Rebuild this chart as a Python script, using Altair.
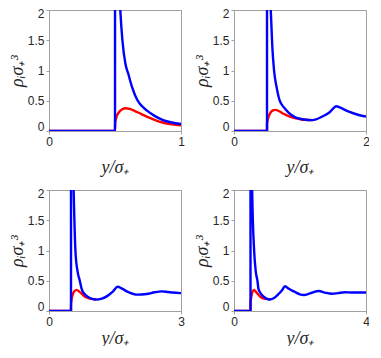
import altair as alt
import pandas as pd

x_max = [1, 2, 3, 4]
y_ticks = [0, 0.5, 1, 1.5, 2]

# Panel 1 (0..1)
blue_x1 = [0, 0.5, 0.501, 0.52, 0.54, 0.556, 0.58, 0.60, 0.63, 0.667, 0.70, 0.74, 0.80, 0.864, 0.93, 1.0]
blue_y1 = [0, 0, 8, 3.0, 2.0, 1.5, 1.1, 0.95, 0.72, 0.52, 0.42, 0.34, 0.25, 0.18, 0.14, 0.115]
red_x1 = [0, 0.5, 0.501, 0.51, 0.53, 0.555, 0.58, 0.61, 0.65, 0.70, 0.75, 0.80, 0.86, 0.93, 1.0]
red_y1 = [0, 0, 0.12, 0.22, 0.31, 0.36, 0.375, 0.365, 0.33, 0.28, 0.23, 0.185, 0.14, 0.11, 0.095]

# Panel 2 (0..2)
blue_x2 = [0, 0.5, 0.501, 0.52, 0.557, 0.58, 0.607, 0.65, 0.69, 0.716, 0.78, 0.84, 0.92, 1.04, 1.19, 1.34, 1.45, 1.55, 1.60, 1.74, 1.89, 2.0]
blue_y2 = [0, 0, 8, 3.5, 2.0, 1.4, 1.0, 0.7, 0.51, 0.45, 0.36, 0.29, 0.23, 0.195, 0.18, 0.24, 0.31, 0.41, 0.39, 0.32, 0.265, 0.24]
red_x2 = [0, 0.5, 0.501, 0.52, 0.55, 0.59, 0.63, 0.68, 0.74, 0.79, 0.87, 0.94, 1.02, 1.09, 1.19]
red_y2 = [0, 0, 0.12, 0.22, 0.30, 0.34, 0.35, 0.33, 0.29, 0.265, 0.23, 0.21, 0.19, 0.185, 0.18]

# Panel 3 (0..3)
blue_x3 = [0, 0.5, 0.501, 0.53, 0.56, 0.60, 0.65, 0.70, 0.74, 0.81, 0.89, 0.98, 1.07, 1.2, 1.33, 1.45, 1.56, 1.66, 1.78, 1.9, 2.0, 2.22, 2.4, 2.56, 2.7, 2.81, 3.0]
blue_y3 = [0, 0, 8, 3.0, 2.0, 1.0, 0.65, 0.5, 0.37, 0.28, 0.23, 0.2, 0.19, 0.205, 0.25, 0.32, 0.40, 0.37, 0.32, 0.285, 0.27, 0.28, 0.31, 0.325, 0.315, 0.305, 0.295]
red_x3 = [0, 0.5, 0.501, 0.53, 0.58, 0.63, 0.69, 0.75, 0.81, 0.88, 0.96, 1.07]
red_y3 = [0, 0, 0.12, 0.25, 0.33, 0.35, 0.32, 0.28, 0.24, 0.215, 0.2, 0.19]

# Panel 4 (0..4)
blue_x4 = [0, 0.5, 0.501, 0.53, 0.55, 0.61, 0.66, 0.71, 0.74, 0.81, 0.89, 0.98, 1.09, 1.2, 1.33, 1.45, 1.55, 1.65, 1.83, 2.0, 2.12, 2.3, 2.57, 2.75, 2.96, 3.15, 3.36, 3.55, 3.75, 4.0]
blue_y4 = [0, 0, 8, 3.0, 2.0, 1.0, 0.65, 0.5, 0.37, 0.29, 0.24, 0.205, 0.19, 0.21, 0.27, 0.34, 0.41, 0.37, 0.32, 0.275, 0.265, 0.29, 0.33, 0.305, 0.285, 0.295, 0.31, 0.305, 0.305, 0.305]
red_x4 = [0, 0.5, 0.501, 0.53, 0.57, 0.61, 0.66, 0.72, 0.79, 0.88, 0.99, 1.09]
red_y4 = [0, 0, 0.12, 0.25, 0.33, 0.35, 0.32, 0.28, 0.24, 0.21, 0.2, 0.19]

blues = [(blue_x1, blue_y1), (blue_x2, blue_y2), (blue_x3, blue_y3), (blue_x4, blue_y4)]
reds = [(red_x1, red_y1), (red_x2, red_y2), (red_x3, red_y3), (red_x4, red_y4)]

Y_TITLE = "ρᵢσ₊³"
X_TITLE = "y/σ₊"


def frame(xs, ys):
    return pd.DataFrame({"x": xs, "y": ys, "idx": list(range(len(xs)))})


def panel(i, title_pad):
    xm = x_max[i]
    xenc = alt.X("x:Q", scale=alt.Scale(domain=[0, xm], nice=False, zero=False),
                 axis=alt.Axis(values=[0, xm], format="~g", title=X_TITLE,
                               titlePadding=title_pad, labelFlush=False))
    yenc = alt.Y("y:Q", scale=alt.Scale(domain=[0, 2], nice=False),
                 axis=alt.Axis(values=y_ticks, format="~g", title=Y_TITLE,
                               labelFlush=True, labelFlushOffset=2))
    red = alt.Chart(frame(*reds[i])).mark_line(
        color="#ff0000", strokeWidth=2.4, clip=True, interpolate="monotone").encode(
        x=xenc, y=yenc, order="idx:Q")
    blue = alt.Chart(frame(*blues[i])).mark_line(
        color="#0000ff", strokeWidth=2.4, clip=True, interpolate="monotone").encode(
        x=xenc, y=yenc, order="idx:Q")
    return alt.layer(red, blue).properties(width=132, height=121)


row1 = alt.hconcat(panel(0, 11), panel(1, 11), spacing=7)
row2 = alt.hconcat(panel(2, 2), panel(3, 2), spacing=7)
chart = alt.vconcat(row1, row2, spacing=9).properties(
    padding={"left": -1, "top": -2, "right": -1, "bottom": -2}
).configure_view(
    stroke="#a0a0a0", strokeWidth=1
).configure_axis(
    grid=False,
    domainColor="#a0a0a0",
    tickColor="#a0a0a0",
    tickSize=3,
    labelFont="Liberation Sans",
    labelFontSize=12,
    labelColor="#262626",
    labelPadding=2,
    titleFont="Liberation Serif",
    titleFontStyle="italic",
    titleFontWeight="normal",
    titleFontSize=18,
    titleColor="#262626",
).configure_axisY(
    titlePadding=1,
)

chart.save("out.html", embed_options={"renderer": "svg", "actions": False})
